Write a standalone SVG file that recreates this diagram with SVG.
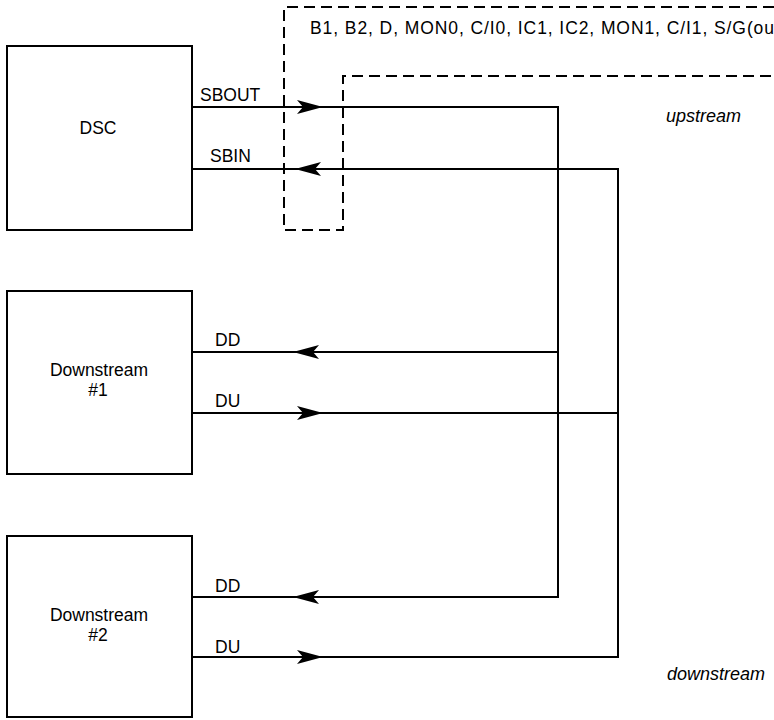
<svg xmlns="http://www.w3.org/2000/svg" xmlns:xlink="http://www.w3.org/1999/xlink" width="774" height="720" viewBox="0 0 774 720">
<style>
.box{fill:#fff;stroke:#000;stroke-width:2}
.ln{fill:none;stroke:#000;stroke-width:2}
.dash{fill:none;stroke:#000;stroke-width:2;stroke-dasharray:11 6}
text{font-family:"Liberation Sans",Arial,sans-serif;font-size:17.5px;fill:#000}
.c{text-anchor:middle}
.it{font-style:italic;font-size:18px}
</style>
<defs>
<path id="ar" d="M0,0 L-26,-7 L-20,0 L-26,7 Z" fill="#000"/>
</defs>
<rect width="774" height="720" fill="#fff"/>
<g id="dsc">
<rect class="box" x="7" y="46" width="185" height="184"/>
<text class="c" x="98" y="134">DSC</text>
</g>
<g id="downstream1">
<rect class="box" x="7" y="291" width="185" height="183"/>
<text class="c" x="99" y="376">Downstream</text>
<text class="c" x="98" y="396">#1</text>
</g>
<g id="downstream2">
<rect class="box" x="7" y="536" width="185" height="181"/>
<text class="c" x="99" y="621">Downstream</text>
<text class="c" x="98" y="641">#2</text>
</g>
<g id="boundary">
<path class="dash" d="M774,7 H284 V230 H343 V76 H774"/>
<text x="310" y="34" font-size="17" textLength="464" lengthAdjust="spacing">B1, B2, D, MON0, C/I0, IC1, IC2, MON1, C/I1, S/G(ou</text>
</g>
<g id="connectors">
<path class="ln" d="M192,107 H558 V597 H192"/>
<path class="ln" d="M558,352 H192"/>
<path class="ln" d="M192,169 H618 V657 H192"/>
<path class="ln" d="M192,413 H618"/>
<use xlink:href="#ar" transform="translate(323,107)"/>
<use xlink:href="#ar" transform="translate(295,169) rotate(180)"/>
<use xlink:href="#ar" transform="translate(293,352) rotate(180)"/>
<use xlink:href="#ar" transform="translate(323,413)"/>
<use xlink:href="#ar" transform="translate(293,597) rotate(180)"/>
<use xlink:href="#ar" transform="translate(323,657)"/>
<text x="200" y="101">SBOUT</text>
<text x="210" y="162">SBIN</text>
<text x="215" y="346">DD</text>
<text x="215" y="407">DU</text>
<text x="215" y="592">DD</text>
<text x="215" y="653">DU</text>
</g>
<g id="labels">
<text class="it" x="666" y="122">upstream</text>
<text class="it" x="667" y="680">downstream</text>
</g>
</svg>
